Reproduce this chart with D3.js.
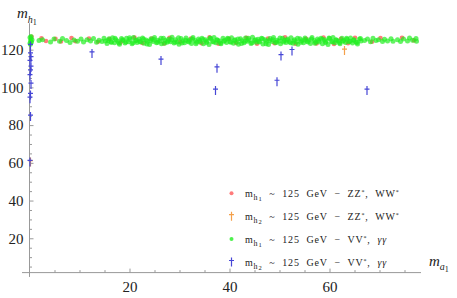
<!DOCTYPE html>
<html lang="en">
<script src="https://d3js.org/d3.v7.min.js"></script>
<style>
  body { margin: 0; background: white; }
  .tick text { font-family: "Liberation Serif", serif; font-size: 15px; fill: #222; }
  .tick line { stroke: #999; }
  .legend text { font-family: "Liberation Serif", serif; font-size: 10px; fill: #222; letter-spacing: 0.8px; word-spacing: 3.5px; }
  .axlabel { font-family: "Liberation Serif", serif; font-style: italic; fill: #222; }
</style>
<body>
<svg width="457" height="298" id="chart"></svg>
<script>
  // m_h1 ~ 125 GeV, ZZ*/WW* (red)
  var redPts = [[0.4,126.8],[2.4,126.0],[3.3,124.6],[5.2,125.7],[6.3,124.3],[8.4,126.2],[9.2,124.5],[11.9,125.9],[13.7,124.2],
    [16.0,125.6],[18.2,123.8],[21.0,126.4],[22.6,123.5],[24.5,125.9],[26.9,123.3],[28.0,126.3],[30.1,124.0],[32.3,125.9],
    [34.4,123.4],[36.0,126.5],[37.8,123.1],[39.9,125.8],[41.3,123.6],[43.4,126.3],[45.5,123.2],[47.7,125.9],[49.0,123.4],
    [51.1,126.5],[53.2,123.1],[55.3,125.7],[57.4,123.3],[58.8,126.4],[60.9,123.0],[62.3,125.8],[63.7,123.4],[65.1,126.3],
    [68.5,124.2],[70.2,126.1],[74.5,126.3],[76.9,124.9]];

  // m_h2 ~ 125 GeV, ZZ*/WW* (orange)
  var orangePts = [[63.0,119.5],[0.2,60.4]];

  // m_h1 ~ 125 GeV, VV*/gamma gamma (green)
  var greenPts = [[0.1,123.4],[0.2,124.6],[0.3,125.8],[0.1,126.5],[0.4,124.0],[0.2,122.9],[0.5,125.2],[0.3,127.0],
    [1.9,124.8],[2.6,125.2],[4.2,124.1],[4.9,125.6],[6.0,124.5],[6.6,125.9],[7.4,124.9],[8.1,123.8],[8.9,125.1],[9.6,124.4],
    [10.3,125.6],[10.8,124.0],[11.5,125.2],[12.2,124.6],[12.8,125.9],[13.4,123.9],[13.9,125.0],[14.5,124.3],[14.9,126.0],
    [15.2,124.6],[15.5,123.3],[15.9,125.8],[16.3,124.1],[16.6,126.3],[17.0,123.7],[17.3,125.2],[17.7,124.4],[18.0,122.9],
    [18.4,125.9],[18.7,124.8],[19.1,123.5],[19.4,126.0],[19.8,124.2],[20.1,125.4],[20.5,123.1],[20.8,126.5],[21.2,124.7],
    [21.5,123.8],[21.9,125.6],[22.2,124.0],[22.6,126.2],[22.9,123.4],[23.3,125.1],[23.6,124.5],[24.0,122.8],[24.3,125.8],
    [24.7,124.3],[25.0,126.4],[25.4,123.6],[25.7,125.0],[26.1,124.6],[26.4,123.2],[26.8,126.0],[27.1,124.9],[27.5,123.9],
    [27.8,125.5],[28.2,124.2],[28.5,126.6],[28.9,123.5],[29.2,125.3],[29.6,124.0],[29.9,122.9],[30.3,125.9],[30.6,124.7],
    [31.0,123.6],[31.3,126.2],[31.7,124.4],[32.0,125.1],[32.4,123.3],[32.7,126.4],[33.1,124.8],[33.4,123.9],[33.8,125.7],
    [34.1,124.1],[34.5,126.1],[34.8,123.1],[35.2,125.2],[35.5,124.5],[35.9,122.8],[36.2,125.9],[36.6,124.3],[36.9,126.5],
    [37.3,123.7],[37.6,125.0],[38.0,124.6],[38.3,123.2],[38.7,126.0],[39.0,124.9],[39.4,123.8],[39.7,125.6],[40.1,124.2],
    [40.4,126.3],[40.8,123.4],[41.1,125.3],[41.5,124.0],[41.8,122.9],[42.2,125.8],[42.5,124.7],[42.9,123.6],[43.2,126.2],
    [43.6,124.4],[43.9,125.1],[44.3,123.3],[44.6,126.6],[45.0,124.8],[45.3,123.9],[45.7,125.5],[46.0,124.1],[46.4,126.0],
    [46.7,123.0],[47.1,125.2],[47.4,124.5],[47.8,122.8],[48.1,125.9],[48.5,124.3],[48.8,126.4],[49.2,123.7],[49.5,125.0],
    [49.9,124.6],[50.2,123.2],[50.6,126.1],[50.9,124.9],[51.3,123.8],[51.6,125.7],[52.0,124.2],[52.3,126.3],[52.7,123.4],
    [53.0,125.3],[53.4,124.0],[53.7,122.9],[54.1,125.8],[54.4,124.7],[54.8,123.6],[55.1,126.2],[55.5,124.4],[55.8,125.1],
    [56.2,123.3],[56.5,126.5],[56.9,124.8],[57.2,123.9],[57.6,125.6],[57.9,124.1],[58.3,126.0],[58.6,123.1],[59.0,125.2],
    [59.3,124.5],[59.7,122.8],[60.0,125.9],[60.4,124.3],[60.7,126.4],[61.1,123.7],[61.4,125.0],[61.8,124.6],[62.1,123.2],
    [62.5,126.1],[62.8,124.9],[63.2,123.8],[63.5,125.5],[63.9,124.2],[64.2,126.2],[64.6,123.5],[64.9,125.3],[65.3,124.0],
    [65.6,123.0],[66.0,125.7],[66.3,124.6],
    [15.7,124.9],[16.4,123.9],[17.1,126.0],[17.9,123.5],[18.6,125.2],[19.3,124.1],[20.0,126.3],[20.7,123.7],[21.4,125.0],
    [22.1,124.3],[22.8,125.7],[23.5,123.0],[24.2,124.8],[24.9,125.4],[25.6,123.9],[26.3,126.1],[27.0,123.4],[27.7,124.6],
    [28.4,125.2],[29.1,124.1],[29.8,126.3],[30.5,123.5],[31.2,125.0],[31.9,124.0],[32.6,125.6],[33.3,123.2],[34.0,124.8],
    [34.7,125.4],[35.4,123.8],[36.1,126.2],[36.8,124.0],[37.5,125.3],[38.2,123.5],[38.9,124.5],[39.6,126.0],[40.3,123.9],
    [41.0,124.8],[41.7,125.6],[42.4,123.3],[43.1,124.4],[43.8,126.1],[44.5,123.6],[45.2,125.2],[45.9,124.4],[46.6,125.8],
    [47.3,123.2],[48.0,124.9],[48.7,125.3],[49.4,123.9],[50.1,126.2],[50.8,124.1],[51.5,125.0],[52.2,123.6],[52.9,124.6],
    [53.6,126.0],[54.3,123.9],[55.0,125.2],[55.7,124.1],[56.4,125.7],[57.1,123.4],[57.8,124.9],[58.5,125.5],[59.2,123.8],
    [59.9,126.2],[60.6,124.0],[61.3,125.3],[62.0,123.6],[62.7,124.5],[63.4,126.0],[64.1,124.4],[64.8,125.0],[65.5,123.8],
    [66.2,125.9],
    [67.0,124.8],[67.6,125.6],[68.2,124.2],[68.7,126.0],[69.3,124.9],[69.8,125.3],[70.6,124.3],[71.0,125.5],[71.6,124.6],
    [72.3,125.8],[72.7,124.4],[73.6,125.2],[74.2,124.3],[74.8,125.7],[75.6,124.6],[76.0,126.2],[76.6,125.0],[77.3,125.9],
    [77.4,124.5]];

  // m_h2 ~ 125 GeV, VV*/gamma gamma (blue)
  var bluePts = [[0.2,122.0],[0.2,117.5],[0.3,115.5],[0.1,113.5],[0.3,110.5],[0.2,108.5],[0.1,106.0],[0.3,101.5],[0.2,96.0],
    [0.1,94.0],[0.2,84.5],[0.1,60.5],
    [12.5,118.0],[26.3,114.2],[37.5,110.1],[37.2,98.3],[50.3,116.6],[52.5,119.3],[49.5,103.0],[67.5,98.3]];

  var xMajor = [20, 40, 60];
  var xMinor = [5, 10, 15, 25, 30, 35, 45, 50, 55, 65, 70, 75];
  var yMajor = [20, 40, 60, 80, 100, 120];
  var yMinor = [5, 10, 15, 25, 30, 35, 45, 50, 55, 65, 70, 75, 85, 90, 95, 105, 110, 115, 125];

  var legendItems = [
    {sub: "1", rest: " ~ 125 GeV \u2212 ZZ", tail: ", WW", tail2: "*", gamma: false, kind: "red"},
    {sub: "2", rest: " ~ 125 GeV \u2212 ZZ", tail: ", WW", tail2: "*", gamma: false, kind: "orange"},
    {sub: "1", rest: " ~ 125 GeV \u2212 VV", tail: ", ", tail2: "", gamma: true, kind: "green"},
    {sub: "2", rest: " ~ 125 GeV \u2212 VV", tail: ", ", tail2: "", gamma: true, kind: "blue"}
  ];

  var colors = {red: "#ff5a5a", orange: "#f4a04a", green: "#22ee22", blue: "#4747d6"};

  var svg = d3.select("#chart");
  var x = d3.scaleLinear().domain([0, 80]).range([29.5, 429.5]);
  var y = d3.scaleLinear().domain([0, 130]).range([276, 30.8]);
  var xAxisAt = 1.8;

  function dagger(px, py) {
    return "M" + px + "," + (py - 4.5) + "V" + (py + 4.5) + "M" + (px - 2.5) + "," + (py - 1.5) + "H" + (px + 2.5);
  }

  // axes lines
  svg.append("line").attr("x1", x(-1.5)).attr("x2", x(78.3)).attr("y1", y(xAxisAt)).attr("y2", y(xAxisAt))
    .attr("stroke", "#999").attr("stroke-width", 1);
  svg.append("line").attr("x1", x(0)).attr("x2", x(0)).attr("y1", y(-0.5)).attr("y2", y(134))
    .attr("stroke", "#999").attr("stroke-width", 1);

  var gx = svg.append("g").attr("transform", "translate(0," + y(xAxisAt) + ")");
  gx.append("g").call(d3.axisBottom(x).tickValues(xMajor).tickSize(-4).tickPadding(9))
    .call(g => g.select(".domain").remove());
  gx.append("g").call(d3.axisBottom(x).tickValues(xMinor).tickSize(-2.5).tickFormat(""))
    .call(g => g.select(".domain").remove());

  var gy = svg.append("g").attr("transform", "translate(" + x(0) + ",0)");
  gy.append("g").call(d3.axisLeft(y).tickValues(yMajor).tickSize(-4).tickPadding(6))
    .call(g => g.select(".domain").remove());
  gy.append("g").call(d3.axisLeft(y).tickValues(yMinor).tickSize(-2.5).tickFormat(""))
    .call(g => g.select(".domain").remove());

  // axis labels
  var ly = svg.append("text").attr("class", "axlabel").attr("x", 17).attr("y", 18).style("font-size", "15px");
  ly.append("tspan").text("m");
  ly.append("tspan").attr("dy", 5).style("font-size", "10px").text("h");
  ly.append("tspan").attr("dy", 2).style("font-size", "8px").style("font-style", "normal").text("1");

  var lx = svg.append("text").attr("class", "axlabel").attr("x", 429).attr("y", 266).style("font-size", "15px");
  lx.append("tspan").text("m");
  lx.append("tspan").attr("dy", 4).style("font-size", "10px").text("a");
  lx.append("tspan").attr("dy", 2).style("font-size", "8px").style("font-style", "normal").text("1");

  // points
  svg.append("g").selectAll("circle").data(redPts).join("circle")
    .attr("cx", d => x(d[0])).attr("cy", d => y(d[1])).attr("r", 2.3)
    .attr("fill", colors.red).attr("opacity", 0.8);

  svg.append("g").selectAll("path").data(orangePts).join("path")
    .attr("d", d => dagger(x(d[0]), y(d[1])))
    .attr("stroke", colors.orange).attr("stroke-width", 1.2).attr("fill", "none");

  svg.append("g").selectAll("circle").data(greenPts).join("circle")
    .attr("cx", d => x(d[0])).attr("cy", d => y(d[1])).attr("r", 2.5)
    .attr("fill", colors.green).attr("opacity", 0.7);

  svg.append("g").selectAll("path").data(bluePts).join("path")
    .attr("d", d => dagger(x(d[0]), y(d[1])))
    .attr("stroke", colors.blue).attr("stroke-width", 1.2).attr("fill", "none");

  // legend
  var leg = svg.append("g").attr("class", "legend");
  legendItems.forEach(function (it, i) {
    var cy = 193.3 + i * 22.9;
    if (it.kind === "red" || it.kind === "green") {
      leg.append("circle").attr("cx", 231.5).attr("cy", cy).attr("r", 2)
        .attr("fill", colors[it.kind]).attr("opacity", 0.8);
    } else {
      leg.append("path").attr("d", dagger(231.5, cy)).attr("stroke", colors[it.kind])
        .attr("stroke-width", 1.2).attr("fill", "none");
    }
    var t = leg.append("text").attr("x", 245).attr("y", cy + 3.5);
    t.append("tspan").text("m");
    t.append("tspan").attr("dy", 3).style("font-size", "8px").text("h");
    t.append("tspan").attr("dy", 1.5).style("font-size", "6.5px").text(it.sub);
    t.append("tspan").attr("dy", -4.5).text(it.rest);
    t.append("tspan").attr("dy", -3).style("font-size", "6px").text("*");
    t.append("tspan").attr("dy", 3).text(it.tail);
    if (it.gamma) {
      t.append("tspan").style("font-style", "italic").text("\u03b3\u03b3");
    } else {
      t.append("tspan").attr("dy", -3).style("font-size", "6px").text(it.tail2);
    }
  });
</script>
</body>
</html>
